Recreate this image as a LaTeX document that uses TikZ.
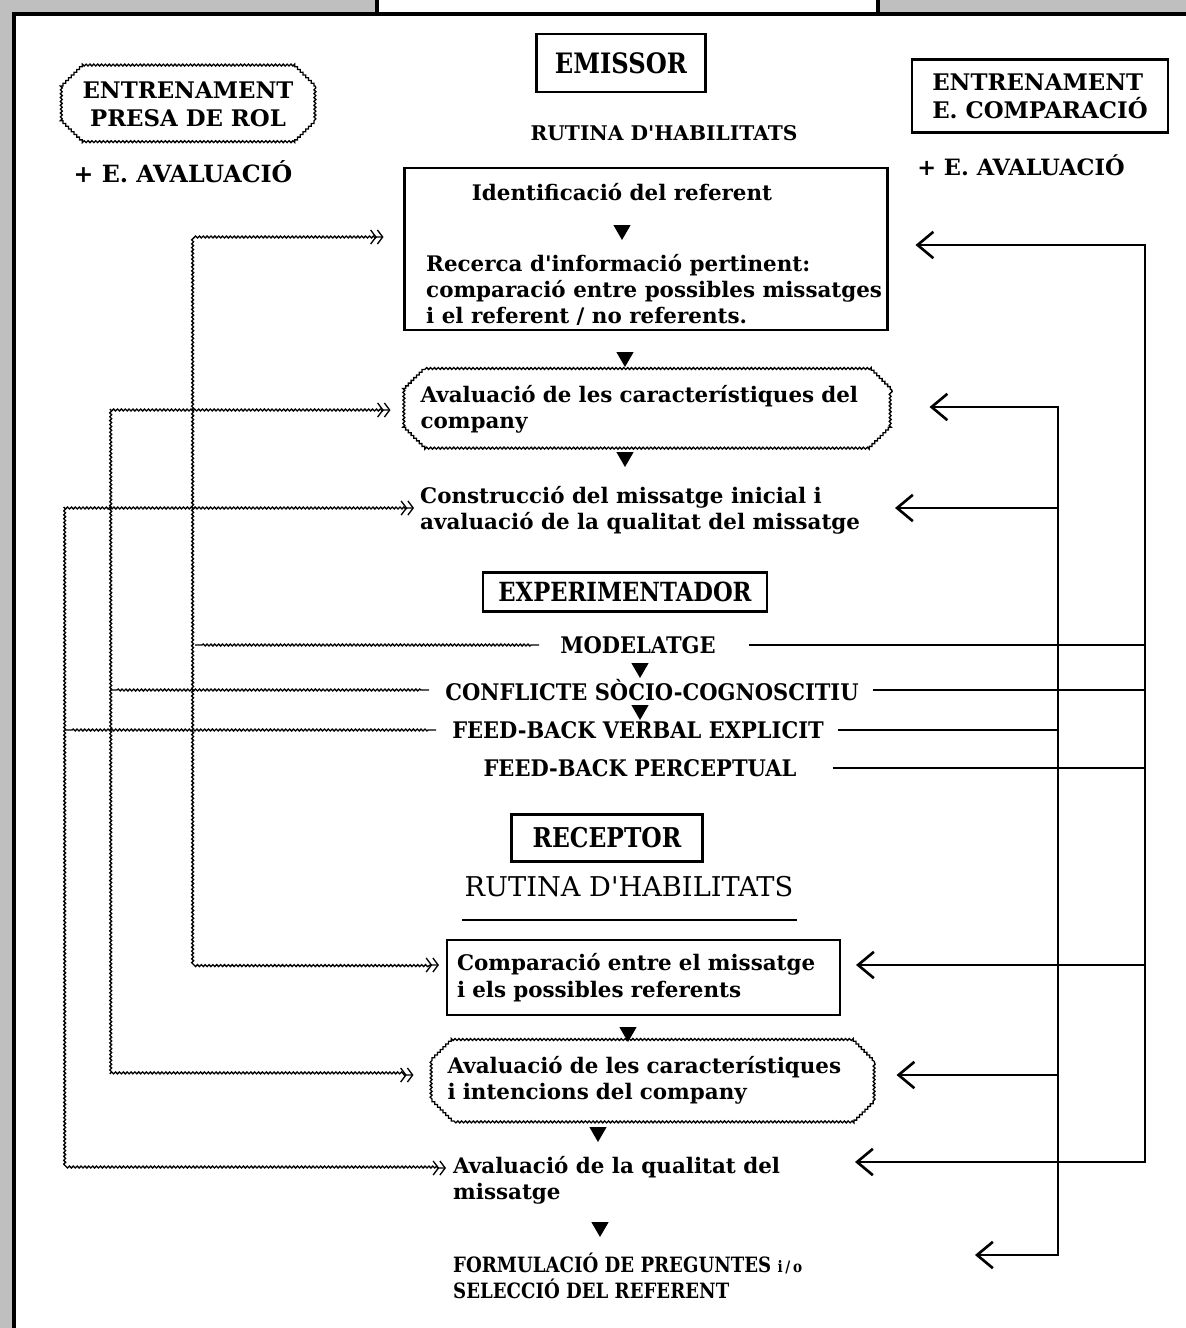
\documentclass[tikz,border=0pt]{standalone}
\usepackage{fontspec}
\setmainfont{DejaVu Serif}
\newfontfamily\estreita[FakeStretch=0.86]{DejaVu Serif}
\newfontfamily\media[FakeStretch=0.92]{DejaVu Serif}
\usetikzlibrary{arrows.meta,shapes.geometric,shapes.misc,decorations.pathmorphing}

\begin{document}
\begin{tikzpicture}[x=0.02cm,y=-0.02cm, %Escala em pixels
  font=\bfseries\fontsize{12.2}{15}\selectfont,
  caixa/.style={draw, line width=1.2pt},
  chanfro/.style={chamfered rectangle, chamfered rectangle xsep=6pt, chamfered rectangle ysep=6pt,
    draw, line width=0.75pt, decorate, decoration={snake, amplitude=0.55pt, segment length=2.2pt}},
  ondulada/.style={line width=0.75pt, decorate,
    decoration={snake, amplitude=0.55pt, segment length=2.2pt, pre length=4pt, post length=4pt}},
  seta/.style={line width=1.5pt},
  chev/.tip={Straight Barb[length=3pt,width=8pt] Straight Barb[length=3pt,width=8pt]},
  barb/.tip={Straight Barb[length=9pt,width=15pt]},
  tri/.style={regular polygon, regular polygon sides=3, shape border rotate=180, fill, inner sep=0pt, minimum size=0.4cm},
  maius/.style={font=\bfseries\fontsize{13}{16}\selectfont},
  estr/.style={font=\media\bfseries\fontsize{13}{15}\selectfont},
  cabec/.style={font=\estreita\bfseries\fontsize{#1}{18}\selectfont}]

\useasboundingbox (0,0) rectangle (1186,1328);
	%Moldura
\fill[gray!50] (0,0) rectangle (1186,13);
\fill[gray!50] (0,0) rectangle (13,1328);
\fill[white] (377,0) rectangle (878,13);
\draw[line width=2.4pt] (377,0) -- (377,14);
\draw[line width=2.4pt] (878,0) -- (878,14);
\draw[line width=2.4pt] (1186,14) -- (14,14) -- (14,1328);

	%Emissor
\node[caixa, cabec=16, minimum width=3.38cm, minimum height=1.16cm] (emissor) at (621,63) {EMISSOR};
\node[chanfro, maius, minimum width=5.1cm, minimum height=1.44cm, align=center] (presa) at (188,104) {ENTRENAMENT\\PRESA DE ROL};
\node[font=\bfseries\fontsize{13.5}{16}\selectfont] (avalE) at (183,172) {+ E. AVALUACIÓ};
\node[font=\bfseries\fontsize{11.5}{14}\selectfont] (rutinaE) at (664,133) {RUTINA D\textquotesingle HABILITATS};
\node[caixa, maius, minimum width=5.12cm, minimum height=1.46cm, align=left] (compar) at (1040,96) {ENTRENAMENT\\E. COMPARACIÓ};
\node[font=\bfseries\fontsize{12.8}{16}\selectfont] (avalD) at (1021,165) {+ E. AVALUACIÓ};

\node[caixa, minimum width=9.66cm, minimum height=3.24cm] (b1) at (646,249) {};
\node (ident) at (622,192) {Identificació del referent};
\node[tri] (t1) at (622,230) {};
\node[anchor=west, align=left] (recerca) at (420,290) {Recerca d\textquotesingle informació pertinent:\\comparació entre possibles missatges\\i el referent / no referents.};
\node[tri] (t2) at (625,357) {};
\node[chanfro, minimum width=9.6cm, minimum height=1.24cm, text width=9.1cm, align=left] (b2) at (648,409) {Avaluació de les característiques del\\company};
\node[tri] (t3) at (625,457) {};
\node[anchor=west, align=left] (constr) at (414,510) {Construcció del missatge inicial i\\avaluació de la qualitat del missatge};

	%Experimentador
\node[caixa, cabec=15, minimum width=5.68cm, minimum height=0.78cm] (exper) at (625,592) {EXPERIMENTADOR};
\node[estr] (model) at (638,645) {MODELATGE};
\node[tri] (t4) at (640,668) {};
\node[estr] (confl) at (652,690) {CONFLICTE SÒCIO-COGNOSCITIU};
\node[tri] (t5) at (640,710) {};
\node[estr] (verbal) at (638,730) {FEED-BACK VERBAL EXPLICIT};
\node[estr] (percep) at (640,768) {FEED-BACK PERCEPTUAL};

	%Receptor
\node[caixa, cabec=15.5, minimum width=3.82cm, minimum height=0.94cm] (receptor) at (607,838) {RECEPTOR};
\node[font=\mdseries\fontsize{15.5}{18}\selectfont] (rutinaR) at (629,887) {RUTINA D\textquotesingle HABILITATS};
\draw[line width=1pt] (462,920) -- (797,920); %Sublinhado
\node[caixa, minimum width=7.86cm, minimum height=1.5cm, text width=7.46cm, align=left] (b3) at (643.5,977.5) {Comparació entre el missatge\\i els possibles referents};
\node[tri] (t6) at (628,1032) {};
\node[chanfro, minimum width=8.62cm, minimum height=1.2cm, text width=8.2cm, align=left] (b4) at (652.5,1080) {Avaluació de les característiques\\i intencions del company};
\node[tri] (t7) at (598,1132) {};
\node[anchor=west, align=left] (qualit) at (447,1180) {Avaluació de la qualitat del\\missatge};
\node[tri] (t8) at (600,1227) {};
\node[font=\estreita\bfseries\fontsize{12}{15}\selectfont, anchor=west, align=left] (formul) at (447,1276) {FORMULACIÓ DE PREGUNTES {\fontsize{9}{9}\selectfont i\,/\,o}\\SELECCIÓ DEL REFERENT};

	%Eixos das ligacoes
\coordinate (esq1) at (195,0);
\coordinate (esq2) at (110,0);
\coordinate (esq3) at (65,0);
\coordinate (dir1) at (1145,0);
\coordinate (dir2) at (1058,0);
\coordinate (ptQ) at (855,1162);
\coordinate (ptF) at (975,1255);
\coordinate (ptC) at (895,508);
\coordinate (ptB3) at ([xshift=0.3cm,yshift=0.25cm]b3.east);
\coordinate (ptB4) at ([xshift=0.44cm,yshift=0.1cm]b4.east);

	%Ligacoes onduladas (presa de rol)
\draw[ondulada, chev-chev] ([xshift=-0.4cm,yshift=0.24cm]b1.west) -| (esq1 |- ptB3) -- ([xshift=-0.14cm]esq1 |- ptB3 -| b3.west);
\draw[ondulada] (esq1 |- model) -- ([xshift=-0.3cm]model.west);
\draw[ondulada, chev-chev] ([xshift=-0.26cm,yshift=-0.02cm]b2.west) -| (esq2 |- ptB4) -- ([xshift=-0.34cm]esq2 |- ptB4 -| b4.west);
\draw[ondulada] (esq2 |- confl) -- ([xshift=-0.2cm]confl.west);
\draw[ondulada, chev-chev] (ptC -| constr.west) -| (esq3 |- 0,1168) -- ([xshift=-0.02cm,yshift=0.24cm]qualit.west);
\draw[ondulada] (esq3 |- verbal) -- ([xshift=-0.2cm]verbal.west);

	%Ligacoes solidas (comparacao)
\draw[seta, barb-barb] ([xshift=0.54cm,yshift=0.08cm]b1.east) -| (dir1 |- ptQ) -- (ptQ);
\draw[seta, barb-barb] ([xshift=0.74cm,yshift=0.04cm]b2.east) -| (dir2 |- ptF) -- (ptF);
\draw[seta] (model.east) ++(27,0) -- (model.east -| dir1);
\draw[seta] (confl.east) ++(8,0) -- (confl.east -| dir1);
\draw[seta] (verbal.east) ++(8,0) -- (verbal.east -| dir2);
\draw[seta] (percep.east) ++(30,0) -- (percep.east -| dir1);
\draw[seta, barb-] (ptC) -- (ptC -| dir2);
\draw[seta, barb-] (ptB3) -- (ptB3 -| dir1);
\draw[seta, barb-] (ptB4) -- (ptB4 -| dir2);

\end{tikzpicture}
\end{document}
